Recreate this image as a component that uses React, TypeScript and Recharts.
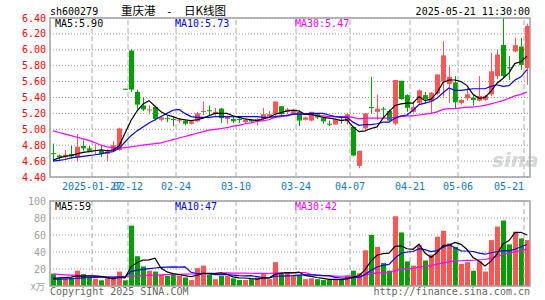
import React from 'react';
import { ComposedChart, Bar, Line, XAxis, YAxis, CartesianGrid, ReferenceLine } from 'recharts';

const dates = [
  '2025-01-16', '2025-01-17', '2025-01-20', '2025-01-21', '2025-01-22', '2025-01-23', '2025-01-24', '2025-01-27',
  '2025-02-05', '2025-02-06', '2025-02-07', '2025-02-10', '2025-02-11', '2025-02-12', '2025-02-13', '2025-02-14',
  '2025-02-17', '2025-02-18', '2025-02-19', '2025-02-20', '2025-02-21', '2025-02-24', '2025-02-25', '2025-02-26',
  '2025-02-27', '2025-02-28', '2025-03-03', '2025-03-04', '2025-03-05', '2025-03-06', '2025-03-07', '2025-03-10',
  '2025-03-11', '2025-03-12', '2025-03-13', '2025-03-14', '2025-03-17', '2025-03-18', '2025-03-19', '2025-03-20',
  '2025-03-21', '2025-03-24', '2025-03-25', '2025-03-26', '2025-03-27', '2025-03-28', '2025-03-31', '2025-04-01',
  '2025-04-02', '2025-04-03', '2025-04-07', '2025-04-08', '2025-04-09', '2025-04-10', '2025-04-11', '2025-04-14',
  '2025-04-15', '2025-04-16', '2025-04-17', '2025-04-18', '2025-04-21', '2025-04-22', '2025-04-23', '2025-04-24',
  '2025-04-25', '2025-04-28', '2025-04-29', '2025-04-30', '2025-05-06', '2025-05-07', '2025-05-08', '2025-05-09',
  '2025-05-12', '2025-05-13', '2025-05-14', '2025-05-15', '2025-05-16', '2025-05-19', '2025-05-20', '2025-05-21',
];

const opens = [
  4.70, 4.67, 4.66, 4.69, 4.65, 4.79, 4.76, 4.73, 4.73, 4.69,
  4.73, 4.74, 5.51, 5.99, 5.47, 5.30, 5.24, 5.28, 5.12, 5.14,
  5.13, 5.11, 5.11, 5.07, 5.10, 5.22, 5.24, 5.20, 5.26, 5.13,
  5.13, 5.13, 5.09, 5.12, 5.10, 5.13, 5.16, 5.19, 5.29, 5.22,
  5.19, 5.22, 5.12, 5.11, 5.19, 5.14, 5.07, 5.06, 5.12, 5.10,
  5.03, 4.54, 5.01, 5.28, 5.22, 5.26, 5.23, 5.07, 5.61, 5.43,
  5.22, 5.33, 5.43, 5.35, 5.45, 5.60, 5.57, 5.59, 5.33, 5.39,
  5.40, 5.36, 5.37, 5.44, 5.67, 6.06, 5.78, 5.98, 6.04, 5.77,
];
const closes = [
  4.69, 4.65, 4.68, 4.66, 4.78, 4.76, 4.73, 4.74, 4.69, 4.72,
  4.80, 5.01, 5.51, 5.50, 5.31, 5.25, 5.25, 5.13, 5.15, 5.13,
  5.12, 5.12, 5.07, 5.10, 5.20, 5.23, 5.23, 5.22, 5.14, 5.16,
  5.10, 5.12, 5.12, 5.10, 5.13, 5.19, 5.19, 5.35, 5.19, 5.25,
  5.24, 5.11, 5.15, 5.22, 5.15, 5.10, 5.06, 5.13, 5.11, 5.19,
  4.67, 4.73, 5.20, 5.27, 5.26, 5.25, 5.11, 5.62, 5.38, 5.27,
  5.28, 5.49, 5.38, 5.46, 5.69, 5.93, 5.66, 5.34, 5.37, 5.44,
  5.37, 5.42, 5.42, 5.73, 5.94, 5.67, 5.77, 6.06, 5.81, 6.30,
];
const highs = [
  4.82, 4.68, 4.74, 4.79, 4.94, 4.86, 4.79, 4.81, 4.79, 4.75,
  4.85, 5.02, 5.51, 6.01, 5.50, 5.40, 5.30, 5.30, 5.16, 5.17,
  5.15, 5.14, 5.12, 5.11, 5.22, 5.35, 5.30, 5.27, 5.27, 5.17,
  5.16, 5.16, 5.13, 5.13, 5.14, 5.27, 5.23, 5.35, 5.29, 5.27,
  5.25, 5.24, 5.16, 5.22, 5.20, 5.15, 5.11, 5.13, 5.15, 5.19,
  5.04, 4.73, 5.20, 5.66, 5.44, 5.28, 5.25, 5.62, 5.61, 5.44,
  5.35, 5.50, 5.47, 5.47, 5.69, 6.11, 5.79, 5.67, 5.38, 5.52,
  5.43, 5.67, 5.43, 5.96, 6.00, 6.40, 5.92, 6.15, 6.15, 6.33,
];
const lows = [
  4.60, 4.62, 4.63, 4.63, 4.59, 4.73, 4.71, 4.68, 4.65, 4.60,
  4.72, 4.73, 5.50, 5.47, 5.25, 5.23, 5.19, 5.11, 5.10, 5.09,
  5.04, 5.08, 5.05, 5.06, 5.09, 5.18, 5.17, 5.17, 5.08, 5.07,
  5.08, 5.08, 5.07, 5.09, 5.05, 5.12, 5.14, 5.16, 5.18, 5.20,
  5.18, 5.04, 5.11, 5.10, 5.13, 5.07, 5.04, 5.06, 5.07, 5.06,
  4.66, 4.51, 5.00, 5.20, 5.12, 5.14, 5.09, 5.05, 5.37, 5.22,
  5.21, 5.31, 5.33, 5.20, 5.43, 5.41, 5.33, 5.26, 5.31, 5.36,
  5.30, 5.35, 5.36, 5.42, 5.63, 5.65, 5.62, 5.97, 5.75, 5.56,
];

const ma5 = [
  4.61, 4.64, 4.66, 4.67, 4.69, 4.71, 4.72, 4.73, 4.74, 4.73,
  4.74, 4.79, 4.95, 5.11, 5.23, 5.32, 5.36, 5.29, 5.22, 5.18,
  5.16, 5.13, 5.12, 5.11, 5.12, 5.14, 5.17, 5.20, 5.20, 5.20,
  5.17, 5.15, 5.13, 5.12, 5.11, 5.13, 5.15, 5.19, 5.21, 5.23,
  5.24, 5.23, 5.19, 5.19, 5.17, 5.15, 5.14, 5.13, 5.11, 5.12,
  5.03, 4.97, 4.98, 5.01, 5.03, 5.14, 5.22, 5.30, 5.32, 5.33,
  5.33, 5.41, 5.36, 5.38, 5.46, 5.59, 5.62, 5.62, 5.60, 5.55,
  5.44, 5.39, 5.40, 5.48, 5.58, 5.64, 5.71, 5.83, 5.85, 5.92,
];
const ma10 = [
  4.60, 4.61, 4.62, 4.64, 4.65, 4.66, 4.67, 4.68, 4.69, 4.71,
  4.72, 4.76, 4.84, 4.92, 4.98, 5.03, 5.08, 5.12, 5.16, 5.20,
  5.24, 5.25, 5.20, 5.16, 5.15, 5.15, 5.15, 5.16, 5.16, 5.16,
  5.16, 5.16, 5.16, 5.16, 5.16, 5.15, 5.15, 5.16, 5.17, 5.17,
  5.19, 5.19, 5.19, 5.20, 5.20, 5.20, 5.18, 5.16, 5.15, 5.15,
  5.09, 5.05, 5.06, 5.06, 5.07, 5.09, 5.09, 5.14, 5.17, 5.18,
  5.24, 5.31, 5.33, 5.35, 5.39, 5.46, 5.52, 5.49, 5.49, 5.50,
  5.51, 5.51, 5.51, 5.54, 5.56, 5.54, 5.55, 5.62, 5.66, 5.75,
];
const ma30 = [
  4.98, 4.96, 4.94, 4.92, 4.90, 4.88, 4.86, 4.83, 4.80, 4.78,
  4.77, 4.76, 4.77, 4.78, 4.79, 4.80, 4.81, 4.82, 4.83, 4.85,
  4.87, 4.89, 4.91, 4.93, 4.95, 4.97, 4.99, 5.00, 5.01, 5.02,
  5.04, 5.05, 5.07, 5.08, 5.10, 5.11, 5.12, 5.15, 5.16, 5.18,
  5.19, 5.20, 5.19, 5.18, 5.17, 5.17, 5.16, 5.16, 5.16, 5.16,
  5.15, 5.13, 5.14, 5.14, 5.14, 5.14, 5.14, 5.15, 5.16, 5.17,
  5.17, 5.18, 5.19, 5.20, 5.22, 5.25, 5.26, 5.26, 5.27, 5.28,
  5.28, 5.29, 5.30, 5.32, 5.34, 5.36, 5.39, 5.42, 5.44, 5.47,
];

// volume, 万手
const volumes = [
  14.5, 8.6, 8.6, 9.4, 18, 14, 9.4, 8.6, 6.7, 8.6,
  9, 17, 6.7, 71, 35, 23, 18, 17, 13, 12,
  13, 12.5, 10, 7, 21, 24, 13, 8, 12, 12,
  9, 7, 7, 8, 10, 14, 8, 28, 14, 15,
  12, 13, 8, 9, 8, 7, 7, 8, 7, 12.5,
  18, 15, 42, 60, 46, 27, 18, 82, 63, 29,
  24, 48, 30, 37, 58, 65, 50, 46, 26, 28,
  18, 29, 17, 54, 70, 77, 49, 64, 56, 54,
];
const vma5 = [
  9.0, 9.5, 10.0, 10.5, 11.8, 11.7, 11.9, 11.9, 11.3, 9.5,
  8.5, 10.0, 9.6, 22.5, 27.7, 30.5, 30.7, 32.8, 21.2, 16.6,
  14.6, 13.5, 12.1, 10.9, 12.7, 14.9, 15.0, 14.6, 15.6, 13.8,
  10.8, 9.6, 9.4, 8.6, 8.2, 9.2, 9.4, 13.6, 14.8, 15.8,
  15.4, 16.4, 12.4, 11.4, 10.0, 9.0, 7.8, 7.8, 7.4, 8.3,
  10.5, 12.1, 18.9, 29.5, 36.2, 38.0, 38.6, 46.6, 47.2, 43.8,
  43.2, 49.2, 38.8, 33.6, 39.4, 47.6, 48.0, 51.2, 49.0, 43.0,
  33.6, 29.4, 23.6, 29.2, 37.6, 49.4, 53.4, 62.8, 63.2, 60.0,
];
const vma10 = [
  8.0, 8.2, 8.4, 8.6, 9.0, 9.5, 10.0, 10.2, 10.5, 10.6,
  10.1, 10.9, 10.7, 16.9, 18.6, 19.5, 20.4, 21.2, 21.8, 22.2,
  22.6, 22.1, 22.5, 16.1, 14.7, 14.8, 14.3, 13.4, 13.3, 13.3,
  12.9, 12.3, 12.0, 12.1, 11.0, 10.0, 9.5, 11.5, 11.7, 12.0,
  12.3, 12.9, 13.0, 13.1, 12.9, 12.2, 12.1, 10.1, 9.4, 9.2,
  9.8, 10.0, 13.4, 18.5, 22.3, 24.3, 25.4, 32.8, 38.4, 40.0,
  40.6, 43.9, 42.7, 40.4, 41.6, 45.4, 48.6, 45.0, 41.3, 41.2,
  40.6, 38.7, 37.4, 39.1, 40.3, 41.5, 41.4, 43.2, 46.2, 48.8,
];
const vma30 = [
  14.0, 13.6, 13.2, 12.8, 12.4, 12.0, 11.6, 11.2, 10.9, 10.7,
  10.6, 10.8, 11.0, 11.6, 12.0, 12.3, 12.6, 12.9, 13.1, 13.3,
  13.5, 13.7, 13.9, 14.1, 14.3, 14.5, 14.7, 14.9, 15.1, 15.4,
  15.2, 15.1, 15.1, 15.0, 14.8, 14.8, 14.7, 15.4, 15.6, 15.8,
  15.9, 15.8, 15.8, 13.8, 12.9, 12.3, 12.0, 11.7, 11.5, 11.5,
  11.6, 11.7, 12.8, 14.6, 15.4, 15.5, 15.7, 18.1, 19.8, 20.4,
  20.9, 22.3, 23.0, 24.0, 25.6, 27.3, 28.7, 29.3, 29.7, 30.1,
  30.3, 30.9, 31.2, 32.7, 34.7, 37.1, 38.5, 40.3, 42.0, 43.3,
];

const tickDates = ['2025-01-27', '2025-02-12', '2025-02-24', '2025-03-10', '2025-03-24', '2025-04-07', '2025-04-21', '2025-05-06', '2025-05-21'];
const tickLabels = ['2025-01-27', '02-12', '02-24', '03-10', '03-24', '04-07', '04-21', '05-06', '05-21'];
const priceTicks = [4.4, 4.6, 4.8, 5.0, 5.2, 5.4, 5.6, 5.8, 6.0, 6.2, 6.4];
const volTicks = [0, 20, 40, 60, 80, 100];
const priceMaNow = ['5.90', '5.73', '5.47'];
const volMaNow = ['59', '47', '42'];

const RED = '#ff5555';
const GREEN = '#00a000';
const MONO = "'DejaVu Sans Mono', monospace";
const CJK = "'Noto Sans CJK SC', sans-serif";

const rows = dates.map((date, i) => ({
  date,
  o: opens[i],
  c: closes[i],
  h: highs[i],
  l: lows[i],
  hl: [lows[i], highs[i]],
  ma5: ma5[i],
  ma10: ma10[i],
  ma30: ma30[i],
  vol: volumes[i],
  vma5: vma5[i],
  vma10: vma10[i],
  vma30: vma30[i],
}));

function Candle(props: any) {
  const { x, y, width, height, payload } = props;
  if (x == null || y == null || !payload) return null;
  const top = Math.min(y, y + height);
  const span = Math.abs(height);
  const { o, c, h, l } = payload;
  const range = h - l;
  const toY = (v: number) => (range > 0 ? top + ((h - v) / range) * span : top);
  const color = c > o ? RED : GREEN;
  const rx = Math.round(x);
  const cx = rx + 2.5;
  const bodyTop = toY(Math.max(o, c));
  const bodyH = Math.max(1, toY(Math.min(o, c)) - bodyTop);
  return (
    <g>
      <line x1={cx} x2={cx} y1={top} y2={top + Math.max(span, 1)} stroke={color} strokeWidth={1} />
      <rect x={rx} y={bodyTop} width={5} height={bodyH} fill={color} />
    </g>
  );
}

function VolBar(props: any) {
  const { x, y, height, payload } = props;
  if (x == null || y == null || !payload) return null;
  const color = payload.c > payload.o ? RED : GREEN;
  return <rect x={Math.round(x)} y={y} width={5} height={Math.max(0, height)} fill={color} />;
}

function DateTick(props: any) {
  const { x, y, payload } = props;
  const k = tickDates.indexOf(payload.value);
  if (k < 0) return null;
  const last = k === tickDates.length - 1;
  return (
    <text x={x - 3} y={y + 13} textAnchor={last ? 'end' : 'middle'} fill="#1478c8" fontSize={10} fontFamily={MONO}>
      {tickLabels[k]}
    </text>
  );
}

function VolTick(props: any) {
  const { x, y, payload } = props;
  // the zero tick carries the unit, drawn in the overlay so it is not clipped
  if (payload.value === 0) return null;
  return (
    <text x={x} y={y} dy="0.355em" textAnchor="end" fill="#a0a0a0" fontSize={10} fontFamily={MONO}>
      {String(payload.value)}
    </text>
  );
}

function dateLines() {
  return tickDates.map((d) => (
    <ReferenceLine key={d} x={d} position="start" stroke="#aaaaaa" strokeDasharray="5 3" strokeWidth={1} />
  ));
}

export default function App() {
  return (
    <div style={{ position: 'fixed', left: 0, top: 0, width: 545, height: 300, background: '#fff', overflow: 'hidden' }}>
      <svg width={545} height={300} style={{ position: 'absolute', left: 0, top: 0 }}>
        <text x={492} y={167} fill="#d8d8d8" fontSize={20} fontStyle="italic" fontWeight="bold" fontFamily="'DejaVu Sans', sans-serif">
          sina
        </text>
      </svg>

      <div style={{ position: 'absolute', left: 0, top: 0 }}>
        <ComposedChart width={545} height={200} data={rows} margin={{ top: 18, right: 15, bottom: 0, left: 0 }}>
          <CartesianGrid vertical={false} stroke="#999" strokeDasharray="1 2" />
          <XAxis
            dataKey="date"
            ticks={tickDates}
            interval={0}
            tick={<DateTick />}
            axisLine={false}
            tickLine={false}
            tickSize={0}
            tickMargin={0}
            height={23}
          />
          <YAxis
            width={50}
            domain={[4.4, 6.4]}
            ticks={priceTicks}
            interval={0}
            allowDataOverflow
            tickFormatter={(v: number) => v.toFixed(2)}
            tick={{ fill: '#ff0000', fontSize: 10, fontFamily: MONO }}
            axisLine={false}
            tickLine={false}
            tickSize={4}
            tickMargin={0}
          />
          {dateLines()}
          <Bar dataKey="hl" barSize={5} shape={(p: any) => <Candle {...p} />} isAnimationActive={false} />
          <Line type="linear" dataKey="ma30" stroke="#ff00ff" strokeWidth={1.2} dot={false} activeDot={false} isAnimationActive={false} />
          <Line type="linear" dataKey="ma10" stroke="#0000ff" strokeWidth={1.2} dot={false} activeDot={false} isAnimationActive={false} />
          <Line type="linear" dataKey="ma5" stroke="#000000" strokeWidth={1.2} dot={false} activeDot={false} isAnimationActive={false} />
        </ComposedChart>
      </div>

      <div style={{ position: 'absolute', left: 0, top: 190 }}>
        <ComposedChart width={545} height={98} data={rows} margin={{ top: 11, right: 15, bottom: 2, left: 0 }}>
          <CartesianGrid vertical={false} stroke="#999" strokeDasharray="1 2" />
          <XAxis dataKey="date" hide />
          <YAxis
            width={50}
            domain={[0, 100]}
            ticks={volTicks}
            interval={0}
            allowDataOverflow
            tick={<VolTick />}
            axisLine={false}
            tickLine={false}
            tickSize={4}
            tickMargin={0}
          />
          {dateLines()}
          <Bar dataKey="vol" barSize={5} shape={(p: any) => <VolBar {...p} />} isAnimationActive={false} />
          <Line type="linear" dataKey="vma30" stroke="#ff00ff" strokeWidth={1.2} dot={false} activeDot={false} isAnimationActive={false} />
          <Line type="linear" dataKey="vma10" stroke="#0000ff" strokeWidth={1.2} dot={false} activeDot={false} isAnimationActive={false} />
          <Line type="linear" dataKey="vma5" stroke="#000000" strokeWidth={1.2} dot={false} activeDot={false} isAnimationActive={false} />
        </ComposedChart>
      </div>

      <svg width={545} height={300} style={{ position: 'absolute', left: 0, top: 0, pointerEvents: 'none' }}>
        <rect x={50} y={18} width={480} height={159} fill="none" stroke="#a0a0a0" strokeWidth={1.5} />
        <rect x={50} y={201} width={480} height={85} fill="none" stroke="#a0a0a0" strokeWidth={1.5} />

        <text x={50} y={15} fontSize={10} fontFamily={MONO} fill="#000">sh600279</text>
        <text x={121} y={14.5} fontSize={11.5} fontFamily={CJK} fill="#000">重庆港</text>
        <text x={166} y={14.5} fontSize={11} fontFamily={MONO} fill="#000">-</text>
        <text x={184} y={14.5} fontSize={11.5} fontFamily={CJK} fill="#000">日K线图</text>
        <text x={530} y={15} textAnchor="end" fontSize={10} fontFamily={MONO} fill="#000">2025-05-21 11:30:00</text>

        <text x={55} y={27} fontSize={10} fontFamily={MONO} fill="#000">{`MA5:${priceMaNow[0]}`}</text>
        <text x={175} y={27} fontSize={10} fontFamily={MONO} fill="#0000ff">{`MA10:${priceMaNow[1]}`}</text>
        <text x={295} y={27} fontSize={10} fontFamily={MONO} fill="#ff00ff">{`MA30:${priceMaNow[2]}`}</text>

        <text x={55} y={210} fontSize={10} fontFamily={MONO} fill="#000">{`MA5:${volMaNow[0]}`}</text>
        <text x={175} y={210} fontSize={10} fontFamily={MONO} fill="#0000ff">{`MA10:${volMaNow[1]}`}</text>
        <text x={295} y={210} fontSize={10} fontFamily={MONO} fill="#ff00ff">{`MA30:${volMaNow[2]}`}</text>

        <text x={45} y={289.5} textAnchor="end" fontSize={9.5} fontFamily={CJK} fill="#a0a0a0">x万</text>

        <text x={50} y={295} fontSize={10} fontFamily={MONO} fill="#666">Copyright 2025 SINA.COM</text>
        <text x={530} y={295} textAnchor="end" fontSize={10} fontFamily={MONO} fill="#666">http://finance.sina.com.cn</text>
      </svg>
    </div>
  );
}
